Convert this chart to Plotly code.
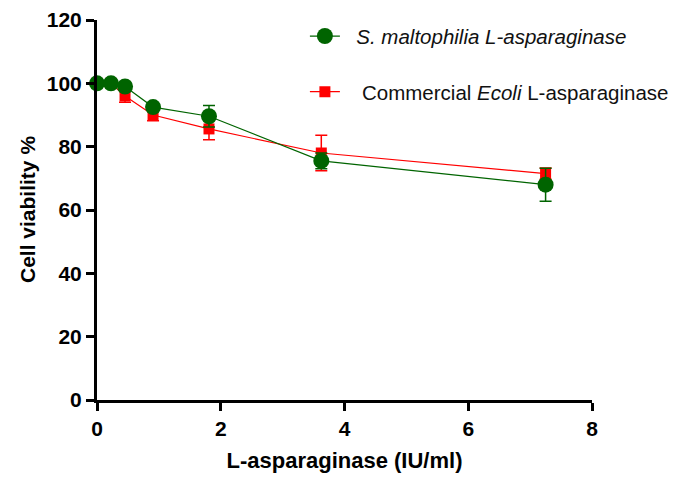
import plotly.graph_objects as go

conc = [0, 0.226, 0.453, 0.906, 1.81, 3.625, 7.25]
sm_viability = [100, 100, 99, 92.5, 89.6, 75.5, 68]
sm_err = [0.5, 0.5, 1.0, 1.2, 3.4, 2.5, 5.2]
ec_viability = [100, 100, 96, 90, 85.6, 78, 71.5]
ec_err = [0.5, 0.5, 2.0, 1.8, 3.4, 5.6, 1.8]

NB = "\u00a0"
sm_name = NB * 2 + "<i>S. maltophilia L-asparaginase</i>"
ec_name = NB * 3 + "Commercial <i>Ecoli</i> L-asparaginase"

GREEN = "#006400"
RED = "#ff0000"

fig = go.Figure()
fig.add_trace(go.Scatter(
    x=conc, y=ec_viability, name=ec_name, mode="lines+markers",
    line=dict(color=RED, width=1.2),
    marker=dict(symbol="square", size=11, color=RED),
    error_y=dict(type="data", array=ec_err, color=RED, thickness=1.5, width=6),
    cliponaxis=False, legendrank=2, legendgroup="b",
))
fig.add_trace(go.Scatter(
    x=conc, y=sm_viability, name=sm_name, mode="lines+markers",
    line=dict(color=GREEN, width=1.2),
    marker=dict(symbol="circle", size=16, color=GREEN),
    error_y=dict(type="data", array=sm_err, color=GREEN, thickness=1.5, width=6),
    cliponaxis=False, legendrank=1, legendgroup="a",
))

axis_font = dict(family="Liberation Sans, Arial, sans-serif", size=21, color="black")
fig.update_layout(
    width=683, height=478,
    margin=dict(l=97, r=91, t=20, b=78, autoexpand=False),
    paper_bgcolor="white", plot_bgcolor="white",
    font=dict(family="Liberation Sans, Arial, sans-serif", color="black"),
    showlegend=True,
    legend=dict(x=0.42, y=1.01, xanchor="left", yanchor="top",
                font=dict(size=20.5, color="#111111"),
                tracegroupgap=26, bgcolor="rgba(0,0,0,0)"),
    xaxis=dict(range=[0, 8], tickvals=[0, 2, 4, 6, 8],
               ticktext=["<b>0</b>", "<b>2</b>", "<b>4</b>", "<b>6</b>", "<b>8</b>"],
               showgrid=False, zeroline=False, showline=True, linecolor="black", linewidth=3,
               ticks="outside", ticklen=8, tickwidth=3, tickcolor="black",
               tickfont=axis_font, automargin=False,
               title=dict(text="<b>L-asparaginase (IU/ml)</b>", font=dict(size=22), standoff=14)),
    yaxis=dict(range=[0, 120], tickvals=[0, 20, 40, 60, 80, 100, 120],
               ticktext=["<b>%d</b>" % v for v in [0, 20, 40, 60, 80, 100, 120]],
               showgrid=False, zeroline=False, showline=True, linecolor="black", linewidth=3,
               ticks="outside", ticklen=8, tickwidth=3, tickcolor="black",
               tickfont=axis_font, automargin=False),
    annotations=[dict(text="<b>Cell viability %</b>", xref="paper", yref="paper",
                      x=0, y=0.5, xanchor="center", yanchor="middle", xshift=-70,
                      textangle=-90, showarrow=False,
                      font=dict(size=21, color="black"))],
)
fig.write_html("out.html")
